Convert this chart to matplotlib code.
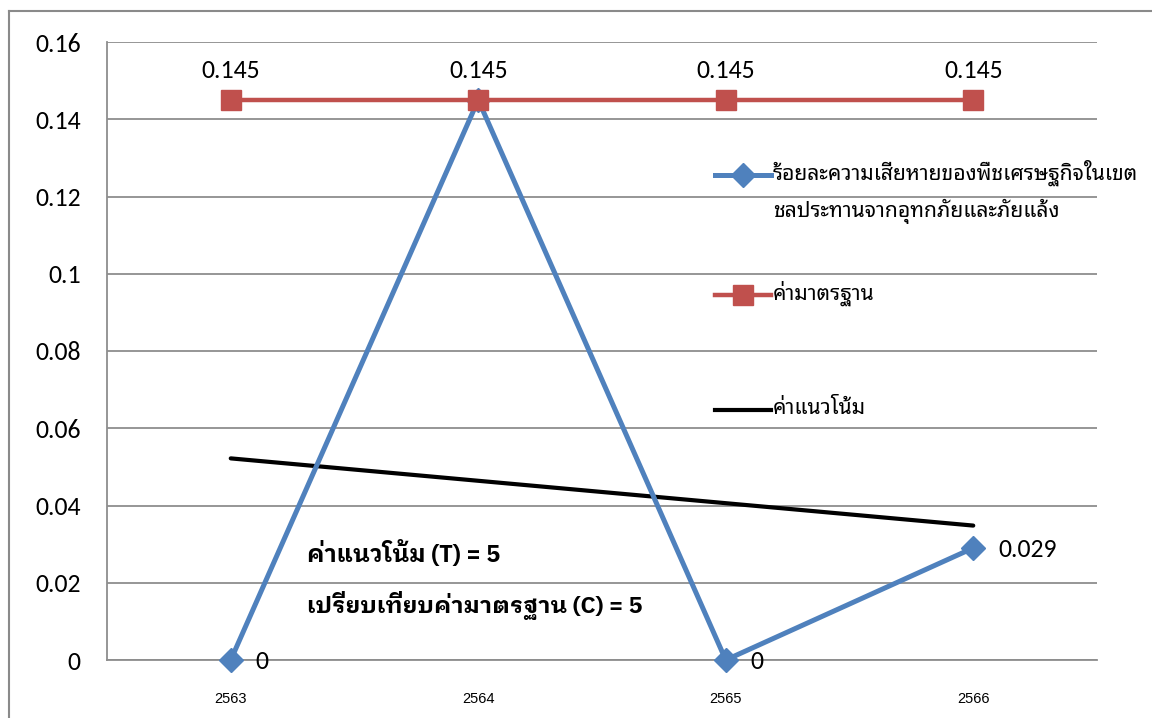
import matplotlib
matplotlib.use("Agg")
import matplotlib.pyplot as plt
from matplotlib.lines import Line2D
import numpy as np

years = ["2563", "2564", "2565", "2566"]
loss_pct = [0.0, 0.145, 0.0, 0.029]
standard = [0.145, 0.145, 0.145, 0.145]
loss_labels = ["0", None, "0", "0.029"]
std_labels = ["0.145", "0.145", "0.145", "0.145"]
yticks = [0, 0.02, 0.04, 0.06, 0.08, 0.1, 0.12, 0.14, 0.16]
ytick_labels = ["0", "0.02", "0.04", "0.06", "0.08", "0.1", "0.12", "0.14", "0.16"]

name_loss_1 = "ร้อยละความเสียหายของพืชเศรษฐกิจในเขต"
name_loss_2 = "ชลประทานจากอุทกภัยและภัยแล้ง"
name_std = "ค่ามาตรฐาน"
name_trend = "ค่าแนวโน้ม"
note_t = "ค่าแนวโน้ม (T) = 5"
note_c = "เปรียบเทียบค่ามาตรฐาน (C) = 5"

BLUE = "#4F81BD"
RED = "#C0504D"
GRID = "#8E8E8E"
THAI = ["Noto Sans Thai Looped", "DejaVu Sans"]
THAI_BOLD = ["IBM Plex Sans Thai Looped", "Noto Sans Thai Looped", "DejaVu Sans"]
NUM = ["Carlito", "Lato", "DejaVu Sans"]

W, H = 1152, 718
fig = plt.figure(figsize=(W / 100, H / 100), dpi=100)
ax = fig.add_axes([107 / W, 1 - 660 / H, 990 / W, 618 / H])

x = np.arange(len(years))

# linear trend of the loss series
slope, intercept = np.polyfit(x, loss_pct, 1)
trend = intercept + slope * x

ax.plot(x, loss_pct, color=BLUE, lw=3.6, marker="D", markersize=12.5,
        markerfacecolor=BLUE, markeredgecolor=BLUE, zorder=4, clip_on=False)
ax.plot(x, standard, color=RED, lw=3.2, marker="s", markersize=14,
        markerfacecolor=RED, markeredgecolor=RED, zorder=5, clip_on=False)
ax.plot(x, trend, color="black", lw=3, zorder=3, solid_capstyle="round")

for xi, v, lab in zip(x, standard, std_labels):
    ax.annotate(lab, (xi, v), xytext=(0, 13), textcoords="offset points",
                ha="center", va="bottom", fontsize=18.5, family=NUM, zorder=6)
for xi, v, lab in zip(x, loss_pct, loss_labels):
    if lab is None:
        continue
    ax.annotate(lab, (xi, v), xytext=(18, -1), textcoords="offset points",
                ha="left", va="center", fontsize=18.5, family=NUM, zorder=6)

ax.set_xlim(-0.5, 3.5)
ax.set_ylim(0, 0.16)
ax.set_yticks(yticks)
ax.set_yticklabels(ytick_labels, fontsize=18.5, family=NUM)
ax.set_xticks(x)
ax.set_xticklabels(years, fontsize=10.5, family=["Liberation Sans Narrow", "Liberation Sans"])
ax.tick_params(axis="both", length=0)
ax.tick_params(axis="y", pad=19)
ax.tick_params(axis="x", pad=23)
ax.grid(axis="y", color=GRID, lw=1.3)
ax.set_axisbelow(True)
for side in ("top", "right"):
    ax.spines[side].set_visible(False)
for side in ("left", "bottom"):
    ax.spines[side].set_color(GRID)
    ax.spines[side].set_linewidth(1.3)

# legend entries placed in figure pixels
LX0, LX1, LTX = 715 / W, 771 / W, 773 / W


def legend_handle(y_px, color, marker, ms, lw):
    yy = 1 - y_px / H
    fig.add_artist(Line2D([LX0, LX1], [yy, yy], color=color, lw=lw,
                          transform=fig.transFigure))
    if marker:
        fig.add_artist(Line2D([(LX0 + LX1) / 2], [yy], marker=marker, markersize=ms,
                              color=color, lw=0, transform=fig.transFigure))


def legend_text(y_px, label):
    fig.text(LTX, 1 - y_px / H, label, ha="left", va="center", fontsize=15.2, family=THAI)


legend_handle(175, BLUE, "D", 12.5, 3.6)
legend_text(173, name_loss_1)
legend_text(211, name_loss_2)
legend_handle(295, RED, "s", 14, 3.2)
legend_text(293, name_std)
legend_handle(410, "black", None, 0, 3)
legend_text(408, name_trend)

fig.text(307 / W, 1 - 554 / H, note_t, ha="left", va="center",
         fontsize=17, fontweight="bold", family=THAI_BOLD)
fig.text(307 / W, 1 - 606 / H, note_c, ha="left", va="center",
         fontsize=16.8, fontweight="bold", family=THAI_BOLD)

# chart frame
fig.add_artist(Line2D([9 / W, 9 / W], [0, 1 - 11 / H], color="#8A8A8A", lw=1.5,
                      transform=fig.transFigure))
fig.add_artist(Line2D([9 / W, 1], [1 - 11 / H, 1 - 11 / H], color="#8A8A8A", lw=1.5,
                      transform=fig.transFigure))

fig.savefig("out.png", dpi=100)
